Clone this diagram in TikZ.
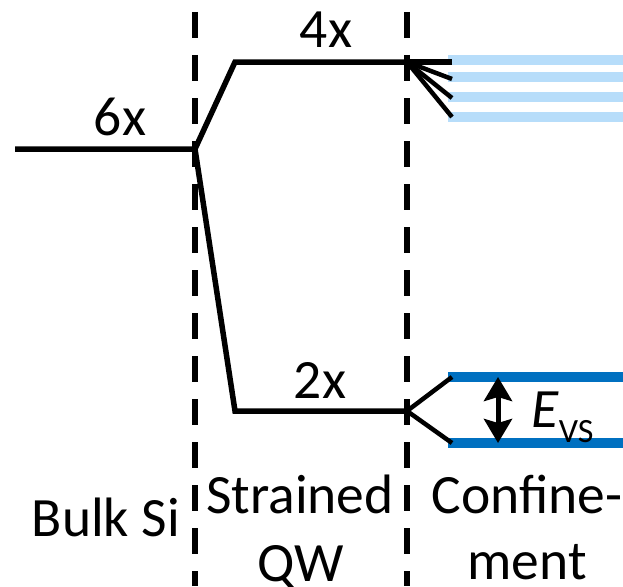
\documentclass[tikz,border=0pt]{standalone}
\usepackage{fontspec}
\setmainfont{Carlito}
\usetikzlibrary{arrows.meta}
\definecolor{lblue}{RGB}{183,221,250}
\definecolor{dblue}{RGB}{0,112,192}
\begin{document}
\begin{tikzpicture}[x=1pt,y=-1pt,
  lvl/.style={line width=5.5pt},
  divider/.style={line width=6pt, dash pattern=on 26pt off 17pt},
  sub/.style={line width=10pt, lblue},
  conf/.style={line width=10pt, dblue},
  lbl/.style={font=\fontsize{55.5}{60}\selectfont, inner sep=0pt, anchor=base},
  dbl/.style={line width=5pt, {Stealth[length=24pt,width=28pt,inset=4pt]}-{Stealth[length=24pt,width=28pt,inset=4pt]}}]
\useasboundingbox (0,0) rectangle (623,586);
% dividers
\coordinate (d1t) at (195,12); \coordinate (d1b) at (195,586);
\coordinate (d2t) at (407,12); \coordinate (d2b) at (407,586);
\draw[divider] (d1t) -- (d1b);
\draw[divider] (d2t) -- (d2b);
% subband lines
\coordinate (s1a) at (448,60);  \coordinate (s1b) at (623,60);
\coordinate (s2a) at (448,77);  \coordinate (s2b) at (623,77);
\coordinate (s3a) at (448,97);  \coordinate (s3b) at (623,97);
\coordinate (s4a) at (448,117); \coordinate (s4b) at (623,117);
\draw[sub] (s1a) -- (s1b);
\draw[sub] (s2a) -- (s2b);
\draw[sub] (s3a) -- (s3b);
\draw[sub] (s4a) -- (s4b);
\coordinate (c1a) at (448,377); \coordinate (c1b) at (623,377);
\coordinate (c2a) at (448,443); \coordinate (c2b) at (623,443);
\draw[conf] (c1a) -- (c1b);
\draw[conf] (c2a) -- (c2b);
% levels
\coordinate (b0) at (15,149);
\coordinate (j) at (195,149);
\coordinate (u1) at (235,62); \coordinate (u2) at (407,62);
\coordinate (l1) at (235,411); \coordinate (l2) at (407,411);
\draw[lvl] (b0) -- (j) -- (u1) -- (u2);
\draw[lvl] (j) -- (l1) -- (l2);
% fans
\coordinate (f1) at (452,62);
\coordinate (f2) at (452,79);
\coordinate (f3) at (452,98);
\coordinate (f4) at (452,117);
\draw[lvl] (u2) -- (f1);
\draw[line width=4.5pt] (u2) -- (f2);
\draw[line width=4.5pt] (u2) -- (f3);
\draw[line width=4.5pt] (u2) -- (f4);
\coordinate (g1) at (452,377);
\coordinate (g2) at (452,443);
\draw[line width=4.5pt] (l2) -- (g1);
\draw[line width=4.5pt] (l2) -- (g2);
% energy splitting arrow
\coordinate (at) at (498,377);
\coordinate (ab) at (498,443);
\draw[dbl] (at) -- (ab);
% labels
\node[lbl] (six) at (120,135) {6x};
\node[lbl] (four) at (326,48) {4x};
\node[lbl] (two) at (320,398) {2x};
\node[lbl] (bulk) at (106,536) {Bulk Si};
\node[lbl] (strained) at (300,513) {Strained};
\node[lbl] (qw) at (301,581) {QW};
\node[lbl] (confine) at (527,513) {Confine-};
\node[lbl] (ment) at (527,579) {ment};
\node[lbl, anchor=base west] (evs) at (531,427) {\textit{E}\raisebox{-15pt}{\fontsize{34}{34}\selectfont VS}};
\end{tikzpicture}
\end{document}
